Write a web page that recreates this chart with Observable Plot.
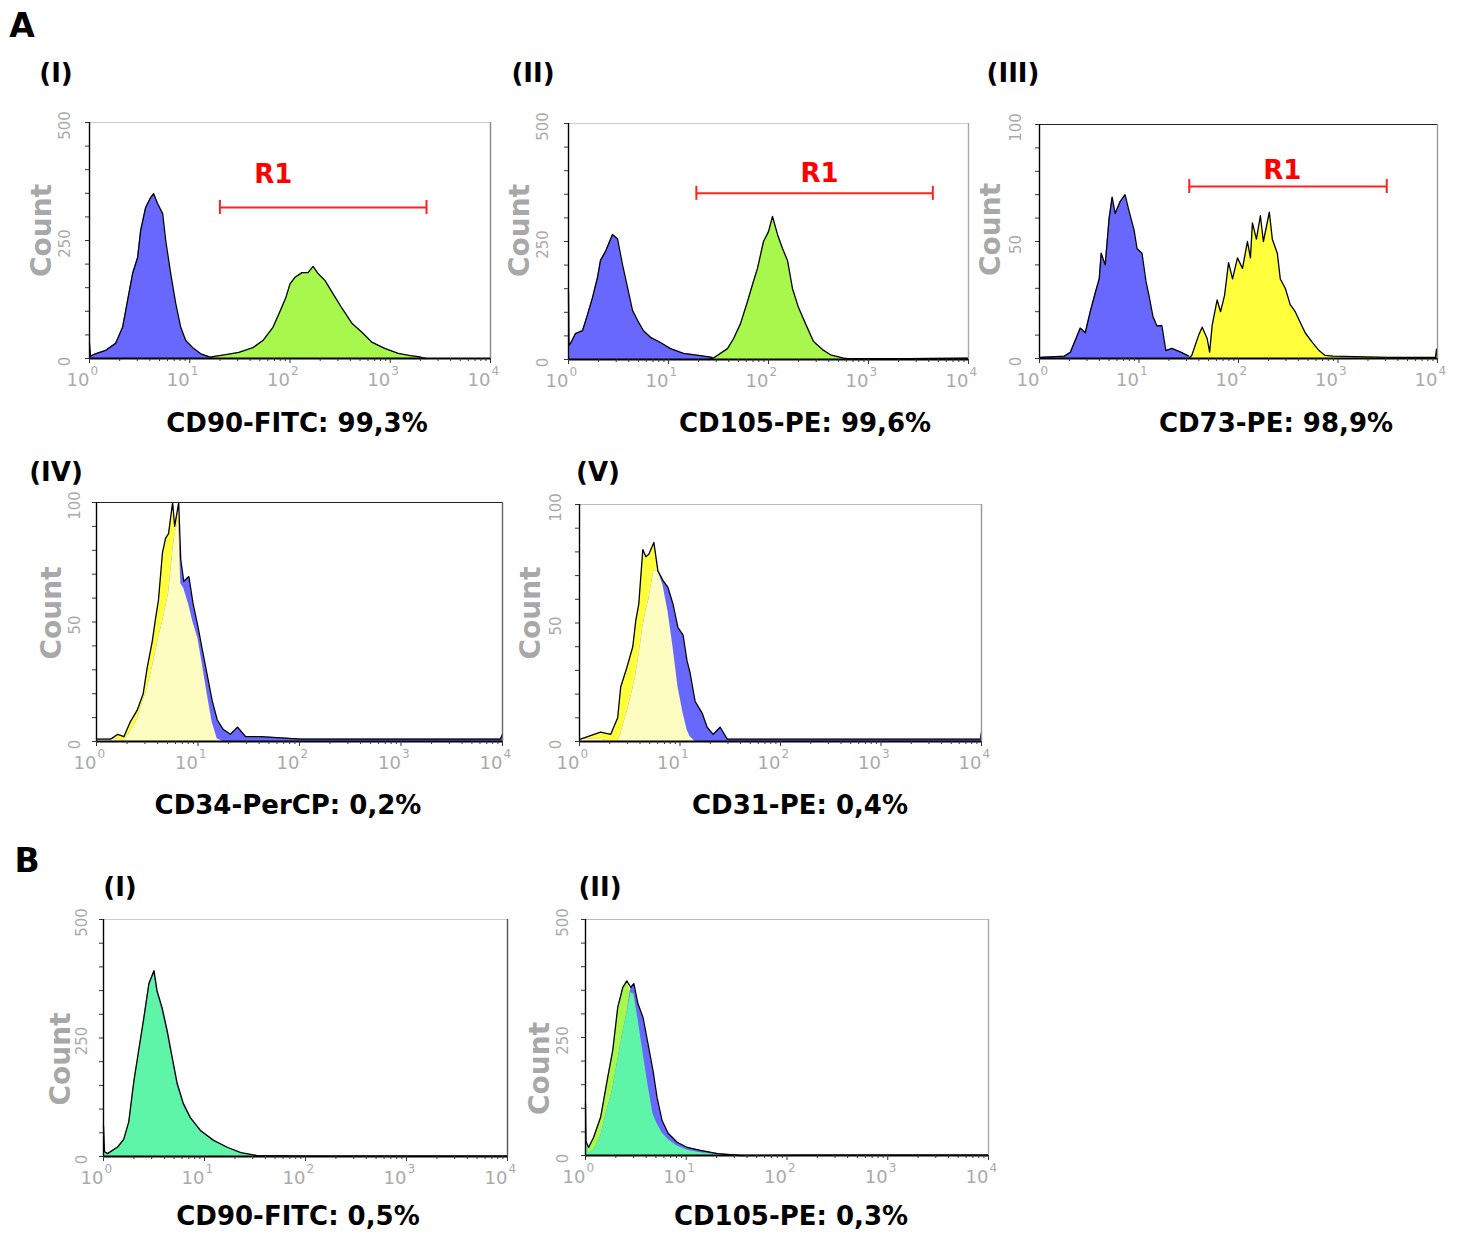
<!DOCTYPE html>
<html><head><meta charset="utf-8">
<script src="https://cdn.jsdelivr.net/npm/d3@7"></script>
<script src="https://cdn.jsdelivr.net/npm/@observablehq/plot@0.6"></script>
<style>
body{margin:0;background:#fff;}
#fig{position:relative;width:1466px;height:1235px;overflow:hidden;font-family:"DejaVu Sans",sans-serif;}
.lab{position:absolute;transform:translate(-50%,-50%);font-weight:bold;white-space:nowrap;line-height:1;color:#000;}
.panel{position:absolute;}
</style></head><body><div id="fig"></div><script>
// ---------- data (x positions in decades, i.e. log10 of intensity; y = count) ----------
const decadeLabels = ["0","1","2","3","4"];
const decadeValues = [1, 10, 100, 1000, 10000];

// A (I) CD90-FITC
const a1BlueDec = [0.0,0.01,0.06,0.16,0.26,0.33,0.38,0.43,0.48,0.51,0.56,0.61,0.64,0.68,0.73,0.76,0.81,0.86,0.91,0.96,1.03,1.11,1.19,1.26];
const a1Blue    = [32,5,10,17,32,66,123,180,214,271,320,341,349,328,307,250,180,117,66,38,23,10,4,1];
const a1GreenDec = [1.2,1.23,1.36,1.49,1.63,1.73,1.83,1.89,1.96,2.00,2.05,2.12,2.18,2.23,2.28,2.35,2.43,2.52,2.62,2.72,2.82,2.95,3.08,3.20,3.28,3.35];
const a1Green    = [0,4,8,13,23,38,66,95,130,158,172,182,182,195,180,165,137,106,74,55,34,21,11,6,4,0];
const a1Gate = {x1: 20, x2: 2300, y: 320, tx: 68};

// A (II) CD105-PE
const a2BlueDec = [0,0.005,0.02,0.07,0.14,0.19,0.24,0.29,0.32,0.37,0.44,0.49,0.54,0.59,0.64,0.69,0.75,0.82,0.92,1.02,1.15,1.32,1.45,1.82,2.3,2.82,3.4,4.0];
const a2Blue    = [146,30,34,55,61,95,131,174,210,229,265,256,201,153,104,83,61,47,36,23,13,8,4,2,3,2,2,3];
const a2GreenDec = [1.40,1.45,1.59,1.65,1.72,1.79,1.84,1.89,1.95,2.00,2.04,2.09,2.14,2.19,2.24,2.30,2.37,2.45,2.54,2.62,2.75,2.85];
const a2Green    = [0,3,23,44,76,123,159,193,250,271,303,265,235,210,150,110,76,38,21,10,3,0];
const a2Gate = {x1: 19, x2: 4400, y: 352, tx: 324};

// A (III) CD73-PE
const a3BlueDec = [0,0.01,0.25,0.31,0.41,0.46,0.51,0.56,0.60,0.62,0.66,0.70,0.73,0.76,0.81,0.86,0.90,0.95,0.98,1.03,1.07,1.10,1.14,1.18,1.23,1.27,1.33,1.42,1.50];
const a3Blue    = [0,0.5,1,2.7,13,11,20,28,34,45,40,60,69,62,67,70,63,55,47,45,33,27,18,14,14,3.4,4.3,2.7,1];
const a3YellowDec = [1.50,1.53,1.60,1.635,1.685,1.71,1.735,1.785,1.82,1.86,1.90,1.94,1.99,2.04,2.09,2.12,2.14,2.18,2.22,2.25,2.31,2.34,2.39,2.42,2.47,2.52,2.57,2.62,2.67,2.74,2.81,2.87,2.95,3.5,3.98,3.99,4.0];
const a3Yellow    = [0,1.3,10,13.4,8.5,2.7,14,25,20,27,41,34,43,38.5,50,43,58,51,61,50,62.5,51,45,34,30,23,20,15.5,11,7,3.4,1.3,1,0.5,0.5,4,0];
const a3Gate = {x1: 32, x2: 3090, y: 73.5, tx: 275};

// A (IV) CD34-PerCP (sample yellow, control blue, shared grid)
const a4Dec    = [0.01,0.14,0.21,0.27,0.33,0.40,0.46,0.50,0.55,0.58,0.61,0.65,0.68,0.71,0.75,0.77,0.81,0.83,0.86,0.91,0.95,1.00,1.04,1.09,1.14,1.19,1.25,1.32,1.39,1.47,1.62,2.01,2.99,3.98,4.0];
const a4Yellow = [1,1,3,2,8,13,20,31,42,51,59,79,85,87,100,90,100,66,64,57,50,43,33,20,8,1,0,0,0,0,0,0,0,0,0];
const a4Blue   = [1,1,1,0,4,9,17,22,31,37,43,50,56,62,79,86,93,76,67,69,58,48,39,28,17,9,5,3,6,2,2,1,1,1,3];

// A (V) CD31-PE
const a5Dec    = [0.01,0.21,0.31,0.38,0.41,0.47,0.53,0.56,0.59,0.63,0.66,0.69,0.74,0.78,0.83,0.88,0.93,0.98,1.03,1.07,1.10,1.15,1.22,1.27,1.33,1.40,1.47,1.60,1.80,2.20,3.19,3.99,4.0];
const a5Yellow = [1,4,3,10,23,31,40,51,58,81,78,79,84,72,66,55,40,23,12,5,2,0,0,0,0,0,0,0,0,0,0,0,0];
const a5Blue   = [1,1,0,0,3,12,22,28,36,48,55,60,72,72,68,65,58,48,45,34,29,17,12,6,3,6,1,1,1,1,1,1,4];

// B (I) CD90-FITC
const b1Dec   = [0.0,0.01,0.04,0.14,0.20,0.25,0.30,0.35,0.40,0.45,0.50,0.53,0.58,0.63,0.68,0.73,0.79,0.86,0.96,1.09,1.23,1.36,1.52,2.0,3.0,4.0];
const b1Green = [65,10,6,20,36,73,158,226,290,360,385,345,308,260,205,150,108,80,53,33,18,8,2,1,1,1];
const b1Blue  = [65,10,6,18,32,67,150,220,293,365,392,350,314,266,209,154,112,82,55,34,19,8,2,1,1,1];

// B (II) CD105-PE
const b2Dec   = [0.0,0.005,0.03,0.08,0.15,0.22,0.27,0.32,0.37,0.41,0.45,0.48,0.52,0.57,0.62,0.67,0.71,0.76,0.82,0.91,1.01,1.14,1.31,1.54,2.13,4.0];
const b2Green = [110,30,17,38,81,165,222,314,356,370,345,342,290,220,150,88,68,48,34,20,11,6,2,0,0,0];
const b2Blue  = [110,30,5,10,40,100,140,200,260,300,356,364,322,293,237,180,123,74,47,28,17,11,4,0,0.5,1];

// ---------- colours ----------
const BLUE = "#6868ff", GREEN = "#a8f74c", YELLOW = "#ffff3c", PALE = "#fdfdc2", AQUA = "#5ef5a8";

const toRows = (dec, vals) => dec.map((d, i) => ({x: Math.max(1, 10 ** d), y: vals[i]}));

function buildPanel(cfg) {
  const ml = 70, mr = 24, mt = 14, mb = 44;
  const {fx, fy, fw, fh, ymax} = cfg;
  const yMinor = d3.range(0, 11).map(i => i * ymax / 10);
  const xMinor = [];
  decadeValues.slice(0, 4).forEach(v => { for (let k = 2; k <= 9; k++) xMinor.push(k * v); });
  const marks = [];
  if (cfg.overlap) {
    const {dec, a, b, fa, fb, fo} = cfg.overlap;
    marks.push(Plot.areaY(toRows(dec, a), {x: "x", y: "y", fill: fa}));
    marks.push(Plot.areaY(toRows(dec, b), {x: "x", y: "y", fill: fb}));
    marks.push(Plot.areaY(toRows(dec, a.map((v, i) => Math.min(v, b[i]))), {x: "x", y: "y", fill: fo}));
    marks.push(Plot.line(toRows(dec, a.map((v, i) => Math.max(v, b[i]))), {x: "x", y: "y", stroke: "#000", strokeWidth: 1.3}));
  } else {
    cfg.series.forEach(s => {
      marks.push(Plot.areaY(toRows(s.dec, s.vals), {x: "x", y: "y", fill: s.fill}));
      marks.push(Plot.line(toRows(s.dec, s.vals), {x: "x", y: "y", stroke: "#000", strokeWidth: 1.3}));
    });
  }
  // frame
  marks.push(Plot.ruleY([ymax], {stroke: cfg.topStroke, strokeWidth: 1.2}));
  marks.push(Plot.ruleX([10000], {stroke: cfg.rightStroke, strokeWidth: 1.4}));
  marks.push(Plot.ruleX([1], {stroke: "#000", strokeWidth: 1.4}));
  marks.push(Plot.ruleY([0], {stroke: "#000", strokeWidth: 2}));
  // ticks
  marks.push(Plot.axisY({ticks: yMinor, tickSize: 4, tickFormat: () => "", label: null, stroke: "#333"}));
  marks.push(Plot.axisX({ticks: xMinor, tickSize: 3, tickFormat: () => "", label: null, stroke: "#333"}));
  marks.push(Plot.axisX({ticks: decadeValues, tickSize: 5, tickFormat: () => "", label: null, stroke: "#333"}));
  // tick labels
  marks.push(Plot.text([0, ymax / 2, ymax], {frameAnchor: "left", y: d => d, text: d => String(d), rotate: -90, textAnchor: "middle", lineAnchor: "middle", dx: cfg.ytDx, dy: 3, fill: "#aaa", fontSize: 15}));
  marks.push(Plot.text(decadeValues, {x: d => d, frameAnchor: "bottom", text: () => "10", textAnchor: "end", lineAnchor: "middle", dy: 22, dx: 0, fill: "#aaa", fontSize: 18}));
  marks.push(Plot.text(decadeValues, {x: d => d, frameAnchor: "bottom", text: (d, i) => decadeLabels[i], textAnchor: "start", lineAnchor: "middle", dy: 13, dx: 1, fill: "#aaa", fontSize: 12}));
  marks.push(Plot.text(["Count"], {frameAnchor: "left", text: d => d, rotate: -90, textAnchor: "middle", lineAnchor: "middle", dx: cfg.countDx, dy: cfg.countDy, fill: "#a8a8a8", fontSize: 28, fontWeight: "bold"}));
  // gate
  if (cfg.gate) {
    const g = cfg.gate, cap = 7 / fh * ymax;
    marks.push(Plot.ruleY([g.y], {x1: g.x1, x2: g.x2, stroke: "#f22", strokeWidth: 2}));
    marks.push(Plot.ruleX([g.x1, g.x2], {y1: g.y - cap, y2: g.y + cap, stroke: "#f22", strokeWidth: 2}));
    marks.push(Plot.text(["R1"], {x: () => g.tx, y: () => g.y, text: d => d, dy: cfg.gateDy, fill: "#f00", fontSize: 26, fontWeight: "bold"}));
  }
  const svg = Plot.plot({
    width: ml + fw + mr, height: mt + fh + mb,
    marginLeft: ml, marginRight: mr, marginTop: mt, marginBottom: mb,
    x: {type: "log", domain: [1, 10000]},
    y: {domain: [0, ymax]},
    style: {fontFamily: "DejaVu Sans, sans-serif", background: "transparent", overflow: "visible"},
    marks
  });
  svg.classList.add("panel");
  svg.style.left = (fx - ml) + "px";
  svg.style.top = (fy - mt) + "px";
  return svg;
}

const fig = document.getElementById("fig");
const panels = [
  {fx: 89, fy: 122, fw: 401, fh: 236, ymax: 500, topStroke: "#ccc", rightStroke: "#888", countDx: -47, countDy: -10, ytDx: -24,
   series: [{dec: a1BlueDec, vals: a1Blue, fill: BLUE}, {dec: a1GreenDec, vals: a1Green, fill: GREEN}], gate: a1Gate, gateDy: -33},
  {fx: 568, fy: 123, fw: 400, fh: 236, ymax: 500, topStroke: "#ccc", rightStroke: "#aaa", countDx: -48, countDy: -11, ytDx: -25,
   series: [{dec: a2BlueDec, vals: a2Blue, fill: BLUE}, {dec: a2GreenDec, vals: a2Green, fill: GREEN}], gate: a2Gate, gateDy: -20},
  {fx: 1039, fy: 124, fw: 398, fh: 234, ymax: 100, topStroke: "#222", rightStroke: "#999", countDx: -48, countDy: -12, ytDx: -23,
   series: [{dec: a3BlueDec, vals: a3Blue, fill: BLUE}, {dec: a3YellowDec, vals: a3Yellow, fill: YELLOW}], gate: a3Gate, gateDy: -16},
  {fx: 96, fy: 502, fw: 406, fh: 239, ymax: 100, topStroke: "#222", rightStroke: "#666", countDx: -44, countDy: -9, ytDx: -21,
   overlap: {dec: a4Dec, a: a4Yellow, b: a4Blue, fa: YELLOW, fb: BLUE, fo: PALE}},
  {fx: 579, fy: 504, fw: 402, fh: 237, ymax: 100, topStroke: "#bbb", rightStroke: "#999", countDx: -48, countDy: -10, ytDx: -23,
   overlap: {dec: a5Dec, a: a5Yellow, b: a5Blue, fa: YELLOW, fb: BLUE, fo: PALE}},
  {fx: 103, fy: 919, fw: 404, fh: 237, ymax: 500, topStroke: "#ccc", rightStroke: "#555", countDx: -42, countDy: 21, ytDx: -21,
   overlap: {dec: b1Dec, a: b1Green, b: b1Blue, fa: GREEN, fb: BLUE, fo: AQUA}},
  {fx: 585, fy: 919, fw: 403, fh: 236, ymax: 500, topStroke: "#bbb", rightStroke: "#aaa", countDx: -45, countDy: 31, ytDx: -22,
   overlap: {dec: b2Dec, a: b2Green, b: b2Blue, fa: GREEN, fb: BLUE, fo: AQUA}}
];
panels.forEach(p => fig.appendChild(buildPanel(p)));

// ---------- text labels ----------
const labels = [
  {t: "A", x: 22, y: 25, s: 33}, {t: "B", x: 27, y: 860, s: 33},
  {t: "(I)", x: 56, y: 73, s: 26}, {t: "(II)", x: 533, y: 73, s: 26}, {t: "(III)", x: 1013, y: 73, s: 26},
  {t: "(IV)", x: 56, y: 472, s: 26}, {t: "(V)", x: 598, y: 472, s: 26},
  {t: "(I)", x: 120, y: 887, s: 26}, {t: "(II)", x: 600, y: 887, s: 26},
  {t: "CD90-FITC: 99,3%", x: 297, y: 423, s: 26}, {t: "CD105-PE: 99,6%", x: 805, y: 423, s: 26},
  {t: "CD73-PE: 98,9%", x: 1276, y: 423, s: 26}, {t: "CD34-PerCP: 0,2%", x: 288, y: 805, s: 26},
  {t: "CD31-PE: 0,4%", x: 800, y: 805, s: 26}, {t: "CD90-FITC: 0,5%", x: 298, y: 1216, s: 26},
  {t: "CD105-PE: 0,3%", x: 791, y: 1216, s: 26}
];
labels.forEach(l => {
  const d = document.createElement("div");
  d.className = "lab";
  d.textContent = l.t;
  d.style.left = l.x + "px";
  d.style.top = l.y + "px";
  d.style.fontSize = l.s + "px";
  fig.appendChild(d);
});
</script></body></html>
